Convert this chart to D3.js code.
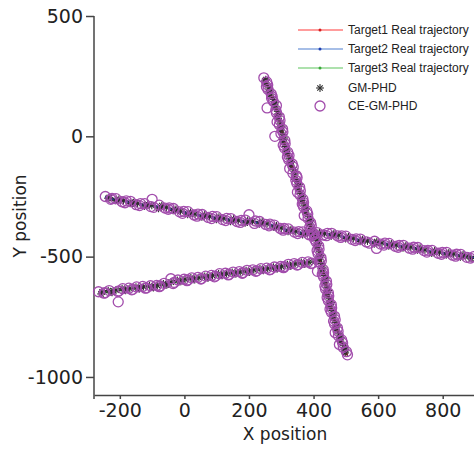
<!DOCTYPE html>
<html>
<head>
<meta charset="utf-8">
<script src="https://cdn.jsdelivr.net/npm/d3@7"></script>
<style>
  body { margin: 0; background: #fff; }
  svg { display: block; }
  .tick text { font-family: "DejaVu Sans", sans-serif; font-size: 19px; fill: #222; }
  .label { font-family: "DejaVu Sans", sans-serif; font-size: 17px; fill: #222; }
  .legend text { font-family: "Liberation Sans", Arial, sans-serif; font-size: 12px; fill: #222; }
</style>
</head>
<body>
<svg id="chart" width="474" height="450"></svg>
<script>
// axis ticks
var xTicks = [-200, 0, 200, 400, 600, 800];
var yTicks = [-1000, -500, 0, 500];

// real trajectories, one [x, y] per time step
var target1 = [[248,240],[255,216],[262,191],[269,167],[278,143],[284,118],[288,94],[293,70],[298,45],[302,21],[305,-3],[309,-28],[313,-52],[321,-77],[326,-101],[333,-125],[340,-150],[346,-174],[351,-198],[356,-223],[361,-247],[366,-272],[372,-296],[379,-320],[386,-345],[390,-369],[394,-393],[404,-418],[411,-442],[414,-466],[418,-491],[421,-515],[424,-540],[429,-564],[434,-588],[438,-613],[441,-637],[443,-661],[450,-686],[453,-710],[458,-734],[464,-759],[468,-783],[473,-807],[480,-832],[487,-856],[495,-881],[502,-905]];
var target2 = [[-242,-253],[-220,-262],[-198,-268],[-175,-272],[-153,-280],[-131,-284],[-109,-288],[-86,-292],[-64,-294],[-42,-302],[-20,-310],[3,-317],[25,-323],[47,-328],[69,-333],[92,-338],[114,-342],[136,-346],[158,-350],[181,-353],[203,-355],[225,-357],[247,-362],[270,-370],[292,-379],[314,-388],[336,-394],[359,-401],[381,-405],[403,-406],[425,-406],[448,-407],[470,-410],[492,-418],[514,-424],[537,-430],[559,-435],[581,-440],[603,-444],[626,-448],[648,-453],[670,-457],[692,-461],[715,-465],[737,-471],[759,-478],[781,-482],[804,-486],[826,-490],[848,-494],[870,-499],[893,-503]];
var target3 = [[-262,-650],[-241,-646],[-219,-643],[-198,-638],[-177,-635],[-155,-632],[-134,-628],[-113,-626],[-91,-624],[-70,-618],[-49,-611],[-27,-604],[-6,-598],[15,-593],[37,-590],[58,-587],[79,-582],[101,-577],[122,-573],[143,-570],[165,-566],[186,-563],[207,-559],[229,-555],[250,-552],[271,-549],[293,-545],[314,-538],[335,-533],[357,-529],[378,-526],[400,-523]];

// GM-PHD estimates
var gmPhd1 = [[252,236],[251,221],[266,188],[265,172],[281,139],[280,122],[292,90],[290,74],[301,40],[298,26],[309,-7],[305,-23],[317,-56],[318,-71],[330,-105],[329,-120],[344,-146],[342,-179],[355,-201],[352,-218],[365,-251],[362,-267],[376,-300],[375,-315],[390,-349],[386,-364],[398,-398],[400,-413],[415,-446],[410,-461],[422,-495],[417,-510],[428,-544],[425,-559],[438,-592],[434,-608],[445,-641],[439,-656],[454,-690],[449,-705],[462,-738],[460,-754],[472,-787],[469,-802],[484,-836],[483,-851],[499,-885],[498,-900],
  [249,230],[261,201],[263,181],[276,153],[279,132],[289,104],[288,84],[298,55],[297,35],[306,7],[304,-13],[314,-42],[315,-62],[326,-91],[327,-111],[339,-139],[341,-160],[351,-188],[350,-208],[361,-237],[361,-257],[372,-286],[373,-306],[385,-334],[386,-355],[395,-383],[397,-403],[410,-432],[410,-452],[419,-480],[417,-501],[425,-529],[424,-550],[434,-578],[434,-598],[442,-627],[440,-647],[449,-675],[449,-696],[458,-724],[459,-744],[469,-773],[468,-793],[479,-821],[481,-842],[494,-870],[496,-891]];
var gmPhd2 = [[-236,-258],[-214,-266],[-203,-262],[-168,-279],[-158,-276],[-124,-290],[-114,-283],[-80,-299],[-70,-288],[-35,-308],[-26,-304],[10,-324],[19,-316],[54,-335],[63,-327],[99,-345],[107,-336],[143,-353],[152,-344],[188,-360],[196,-349],[232,-364],[241,-356],[277,-377],[285,-372],[321,-395],[330,-388],[366,-408],[374,-399],[410,-413],[418,-400],[455,-414],[463,-404],[499,-425],[508,-418],[544,-437],[552,-429],[588,-447],[596,-438],[633,-455],[641,-447],[677,-464],[686,-455],[722,-472],[730,-465],[766,-485],[775,-476],[811,-493],[819,-484],[855,-501],[863,-493],[888,-508],
  [-233,-255],[-206,-268],[-189,-267],[-161,-279],[-145,-279],[-117,-289],[-101,-287],[-72,-296],[-56,-295],[-28,-309],[-12,-311],[17,-323],[33,-323],[61,-334],[78,-333],[106,-343],[122,-341],[150,-351],[167,-349],[195,-357],[211,-353],[239,-363],[256,-363],[284,-378],[300,-381],[328,-394],[345,-395],[373,-406],[389,-403],[417,-409],[434,-404],[462,-412],[478,-411],[506,-424],[523,-424],[551,-436],[567,-435],[595,-445],[612,-443],[640,-454],[656,-452],[684,-462],[701,-460],[729,-471],[745,-472],[773,-483],[790,-481],[818,-491],[834,-489],[862,-500],[879,-498]];
var gmPhd3 = [[-258,-655],[-236,-641],[-224,-648],[-193,-633],[-182,-640],[-150,-627],[-139,-633],[-108,-621],[-96,-629],[-65,-613],[-54,-616],[-22,-599],[-11,-603],[20,-588],[32,-595],[63,-582],[74,-587],[106,-572],[117,-578],[148,-565],[160,-571],[191,-558],[202,-564],[234,-550],[245,-557],[276,-544],[288,-550],[319,-533],[330,-538],[362,-524],[373,-531],[405,-519],
  [-255,-646],[-227,-647],[-212,-639],[-185,-639],[-169,-632],[-142,-632],[-127,-625],[-99,-627],[-84,-619],[-57,-617],[-41,-606],[-14,-603],[2,-594],[29,-594],[45,-587],[72,-587],[87,-578],[115,-577],[130,-570],[157,-570],[173,-563],[200,-563],[215,-555],[243,-556],[258,-549],[285,-549],[301,-540],[328,-538],[343,-529],[371,-530],[386,-523]];

// CE-GM-PHD estimates
var ceGmPhd1 = [[246,243],[258,213],[259,195],[272,164],[275,146],[256,118],[285,97],[296,66],[294,48],[305,18],[280,0],[312,-31],[310,-49],[324,-80],[323,-97],[337,-128],[336,-153],[349,-171],[348,-195],[359,-226],[358,-244],[369,-275],[369,-293],[382,-323],[383,-342],[393,-372],[391,-390],[407,-421],[408,-439],[417,-469],[414,-488],[424,-518],[412,-561],[431,-567],[431,-585],[441,-616],[437,-634],[447,-664],[446,-683],[456,-713],[455,-731],[467,-762],[465,-780],[476,-810],[477,-829],[490,-859],[492,-878],[505,-908],
  [255,226],[254,206],[269,176],[270,158],[285,128],[283,109],[294,80],[287,60],[304,30],[299,12],[311,-17],[306,-37],[320,-66],[319,-86],[334,-115],[326,-134],[347,-164],[345,-183],[357,-212],[350,-232],[367,-261],[365,-281],[379,-310],[371,-329],[391,-359],[388,-378],[402,-407],[403,-427],[416,-456],[411,-475],[423,-505],[418,-524],[430,-554],[427,-573],[440,-602],[435,-622],[446,-651],[442,-670],[455,-700],[451,-719],[465,-748],[462,-768],[474,-797],[467,-816],[487,-846],[480,-865],[502,-895]];
var ceGmPhd2 = [[-245,-250],[-224,-258],[-193,-272],[-180,-268],[-149,-284],[-136,-280],[-104,-292],[-100,-262],[-60,-298],[-47,-297],[-15,-314],[-2,-312],[30,-327],[42,-323],[74,-337],[87,-333],[118,-346],[131,-341],[163,-354],[176,-349],[200,-326],[220,-352],[252,-366],[265,-365],[297,-383],[309,-383],[341,-398],[354,-396],[386,-409],[398,-402],[430,-410],[443,-403],[475,-414],[487,-414],[519,-428],[532,-426],[564,-439],[595,-466],[608,-448],[621,-444],[653,-457],[665,-453],[697,-465],[710,-461],[742,-475],[754,-474],[786,-486],[799,-482],[831,-494],[843,-490],[875,-503],[896,-500],
  [-228,-262],[-212,-259],[-184,-276],[-167,-270],[-139,-288],[-123,-280],[-95,-295],[-78,-286],[-50,-303],[-34,-300],[-6,-320],[11,-313],[39,-332],[55,-325],[84,-342],[100,-334],[128,-350],[144,-342],[173,-358],[189,-348],[217,-362],[233,-354],[262,-372],[278,-369],[306,-390],[322,-385],[351,-404],[367,-397],[395,-412],[411,-400],[440,-413],[456,-403],[484,-420],[500,-415],[529,-433],[545,-427],[573,-444],[589,-436],[618,-452],[634,-445],[662,-461],[678,-453],[707,-469],[723,-462],[751,-481],[767,-474],[796,-490],[812,-482],[840,-498],[856,-491],[885,-506]];
var ceGmPhd3 = [[-266,-646],[-246,-650],[-205,-688],[-203,-642],[-172,-631],[-160,-636],[-129,-624],[-118,-630],[-86,-620],[-75,-622],[-42,-592],[-32,-607],[-1,-594],[10,-597],[42,-586],[53,-591],[84,-578],[96,-581],[127,-569],[138,-574],[170,-562],[181,-567],[212,-555],[224,-559],[255,-548],[266,-553],[298,-541],[309,-542],[340,-529],[352,-533],[383,-522],[395,-527],
  [-249,-652],[-233,-641],[-206,-645],[-191,-633],[-163,-638],[-148,-626],[-121,-631],[-105,-621],[-78,-625],[-63,-611],[-35,-612],[-20,-597],[8,-600],[23,-588],[51,-593],[66,-581],[93,-584],[109,-571],[136,-576],[151,-564],[179,-569],[194,-557],[221,-561],[237,-550],[264,-555],[279,-543],[307,-546],[322,-532],[349,-535],[365,-524],[392,-529]];

var svg = d3.select('#chart');

var x = d3.scaleLinear().domain([-280, 900]).range([94, 475]);
var y = d3.scaleLinear().domain([-1075, 500]).range([395, 16]);

// axes
svg.append('g')
  .attr('transform', 'translate(0,395)')
  .call(d3.axisBottom(x).tickValues(xTicks).tickFormat(function(d) { return String(d); })
    .tickSize(4).tickPadding(5).tickSizeOuter(0))
  .call(function(g) {
    g.selectAll('path, line').attr('stroke', '#444').attr('stroke-width', 1.5);
  });

svg.append('g')
  .attr('transform', 'translate(94,0)')
  .call(d3.axisLeft(y).tickValues(yTicks).tickFormat(function(d) { return String(d); })
    .tickSize(8).tickPadding(3).tickSizeOuter(0))
  .call(function(g) {
    g.selectAll('path, line').attr('stroke', '#444').attr('stroke-width', 1.5);
    g.select('.domain').attr('d', 'M0,16V399');
  });

svg.append('text').attr('class', 'label')
  .attr('x', 285).attr('y', 440).attr('text-anchor', 'middle')
  .text('X position');

svg.append('text').attr('class', 'label')
  .attr('transform', 'translate(26,216) rotate(-90)')
  .attr('text-anchor', 'middle')
  .text('Y position');

// real trajectories
var line = d3.line().x(function(d) { return x(d[0]); }).y(function(d) { return y(d[1]); });
var truths = [
  { data: target1, line: '#ff3b3b', dot: '#d42020' },
  { data: target2, line: '#4f7fcf', dot: '#1f3fb0' },
  { data: target3, line: '#5cc45c', dot: '#3aa83a' }
];
truths.forEach(function(t) {
  svg.append('path').datum(t.data)
    .attr('d', line).attr('fill', 'none')
    .attr('stroke', t.line).attr('stroke-width', 1.2);
  svg.append('g').selectAll('circle').data(t.data).enter().append('circle')
    .attr('cx', function(d) { return x(d[0]); })
    .attr('cy', function(d) { return y(d[1]); })
    .attr('r', 1.5).attr('fill', t.dot);
});

// asterisk marker
function star(g, cx, cy, s) {
  [[s, 0], [0, s], [s * 0.7, s * 0.7], [s * 0.7, -s * 0.7]].forEach(function(v) {
    g.append('line')
      .attr('x1', cx - v[0]).attr('y1', cy - v[1])
      .attr('x2', cx + v[0]).attr('y2', cy + v[1])
      .attr('stroke', '#2e2e2e').attr('stroke-width', 1.1);
  });
}

var stars = svg.append('g');
gmPhd1.concat(gmPhd2, gmPhd3).forEach(function(d) {
  star(stars, x(d[0]), y(d[1]), 3.9);
});

svg.append('g').selectAll('circle').data(ceGmPhd1.concat(ceGmPhd2, ceGmPhd3)).enter().append('circle')
  .attr('cx', function(d) { return x(d[0]); })
  .attr('cy', function(d) { return y(d[1]); })
  .attr('r', 5).attr('fill', 'none')
  .attr('stroke', '#a24dac').attr('stroke-width', 1.3);

// legend
var legend = svg.append('g').attr('class', 'legend');
var legendRows = [
  { name: 'Target1 Real trajectory', y: 30, line: '#ff3b3b', dot: '#d42020' },
  { name: 'Target2 Real trajectory', y: 49, line: '#4f7fcf', dot: '#1f3fb0' },
  { name: 'Target3 Real trajectory', y: 68, line: '#5cc45c', dot: '#3aa83a' }
];
legendRows.forEach(function(r) {
  legend.append('line').attr('x1', 298).attr('x2', 343).attr('y1', r.y).attr('y2', r.y)
    .attr('stroke', r.line).attr('stroke-width', 1.2);
  legend.append('circle').attr('cx', 320).attr('cy', r.y).attr('r', 1.5).attr('fill', r.dot);
  legend.append('text').attr('x', 348).attr('y', r.y + 4).text(r.name);
});
star(legend, 320, 88, 3.9);
legend.append('text').attr('x', 348).attr('y', 92).text('GM-PHD');
legend.append('circle').attr('cx', 320).attr('cy', 106).attr('r', 5)
  .attr('fill', 'none').attr('stroke', '#a24dac').attr('stroke-width', 1.3);
legend.append('text').attr('x', 348).attr('y', 110).text('CE-GM-PHD');
</script>
</body>
</html>
